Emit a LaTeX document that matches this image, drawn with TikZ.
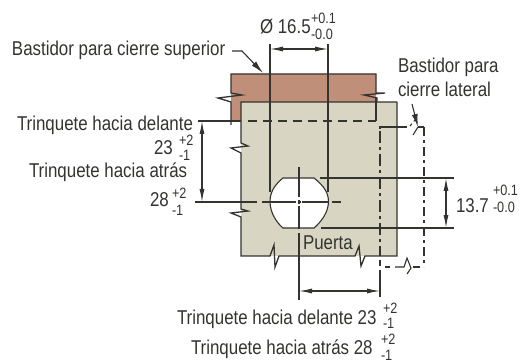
\documentclass[tikz,border=0pt]{standalone}
\usepackage{fontspec}
\setmainfont[FakeStretch=0.845]{Liberation Sans}
\usetikzlibrary{arrows.meta}
\definecolor{ink}{HTML}{333330}
\definecolor{frame}{HTML}{C08F7A}
\definecolor{door}{HTML}{D8D6C2}
\newcommand{\bigtxt}{\fontsize{20}{20}\selectfont}
\newcommand{\smalltxt}{\fontsize{15}{15}\selectfont}
\tikzset{
  lbl/.style={anchor=base west,inner sep=0pt,outer sep=0pt,text=ink,font=\bigtxt},
  tol/.style={anchor=base west,inner sep=0pt,outer sep=0pt,text=ink,font=\smalltxt},
  ln/.style={draw=ink,line width=1.1pt},
  edge/.style={draw=ink,line width=1.3pt},
  dsh/.style={draw=ink,line width=1.1pt,dash pattern=on 9pt off 6pt},
  dim/.style={draw=ink,line width=1.1pt,{Latex[length=13pt,width=5pt]}-{Latex[length=13pt,width=5pt]}},
  lead/.style={draw=ink,line width=1.1pt,-{Latex[length=13pt,width=6pt]}}
}
\begin{document}
\begin{tikzpicture}[x=1pt,y=-1pt]
\useasboundingbox (0,0) rectangle (521,363);
% top frame
\path[fill=frame] (231,74) -- (376,74) -- (376,102) -- (241,102) -- (241,121) -- (231,121) -- cycle;
\draw[edge] (231,125) -- (231,102) -- (218,98) -- (242,95) -- (231,93) -- (231,74) -- (376,74) -- (376,93) -- (385,93) -- (364,95) -- (377,98) -- (376,121);
% door
\path[fill=door] (241,102) -- (397,102) -- (397,256) -- (241,256) -- cycle;
\draw[edge] (376,98) -- (376,121);
\draw[edge] (397,102) -- (397,256) -- (365,256) -- (361,266) -- (359,246) -- (355,256)
  -- (279,256) -- (275,267) -- (274,245) -- (270,256) -- (241,256)
  -- (241,217) -- (231,213) -- (248,211) -- (241,209)
  -- (241,153) -- (231,148) -- (248,146) -- (241,143) -- (241,102) -- (397,102);
% hole
\path[fill=white,draw=ink,line width=1.1pt] (283,178) -- (314,178)
  .. controls (320,183) and (328.5,190) .. (328.5,201.5)
  .. controls (328.5,213) and (320,223) .. (314,228) -- (283,228)
  .. controls (277,223) and (270,213) .. (270,201.5)
  .. controls (270,190) and (277,183) .. (283,178) -- cycle;
% verticals of diameter
\coordinate (dl) at (270,44); \coordinate (dr) at (328,44);
\draw[ln] (dl) -- (270,192);
\draw[ln] (dr) -- (328,192);
\draw[dim] (270,49) -- (328,49);
% rack lines
\coordinate (fwd) at (198,121);
\draw[ln] (fwd) -- (241,121);
\draw[dsh] (248,121) -- (376,121);
\coordinate (bck) at (195,202);
\draw[ln] (bck) -- (257,202);
\draw[ln] (262,202) -- (296,202);
\draw[ln] (297.5,202) -- (300.5,202);
\draw[ln] (302,202) -- (328.5,202);
\draw[ln] (332,202) -- (341,202);
\draw[dim] (202,121) -- (202,202);
% center vertical
\draw[ln] (299,167) -- (299,197.5);
\draw[ln] (299,200) -- (299,203.5);
\draw[ln] (299,206) -- (299,229);
\draw[ln] (299,233) -- (299,300);
\draw[dim] (299,291) -- (380,291);
% side frame dashed
\draw[ln] (380,270) -- (380,297);
\draw[ln] (380,260) -- (380,266);
\draw[ln,dash pattern=on 12pt off 4pt on 3pt off 4pt] (380,131) -- (380,256);
\draw[ln] (380,129) -- (380,127) -- (407,127);
\draw[ln,dash pattern=on 3pt off 3pt] (410,126) -- (415,120);
\draw[ln] (418,127) -- (413,135);
\draw[ln] (418,127) -- (424,127);
\draw[ln,dash pattern=on 9pt off 4pt on 3pt off 4pt] (424,127) -- (424,267);
\draw[ln] (385,267) -- (390,267);
\draw[ln] (395,267) -- (404,267) -- (407,258) -- (411,268) -- (407,274);
\draw[ln] (413,267) -- (420,267);
% 13.7 dimension
\draw[ln] (320,178) -- (454,178);
\draw[ln] (321,228) -- (454,228);
\draw[dim] (446,178) -- (446,228);
% labels
\node[lbl] (topframe) at (12,56) {Bastidor para cierre superior};
\node[lbl] (diam) at (260,34) {Ø 16.5};
\node[tol] (diamp) at (311,24) {+0.1};
\node[tol] (diamm) at (311,40) {-0.0};
\node[lbl] (side1) at (398,73) {Bastidor para};
\node[lbl] (side2) at (398,97) {cierre lateral};
\node[lbl] (tfw) at (17,131) {Trinquete hacia delante};
\node[lbl] (n23) at (154,155) {23};
\node[tol] (n23p) at (179,146) {+2};
\node[tol] (n23m) at (179,161) {-1};
\node[lbl] (tbk) at (29,178) {Trinquete hacia atrás};
\node[lbl] (n28) at (150,207) {28};
\node[tol] (n28p) at (172,199) {+2};
\node[tol] (n28m) at (172,215) {-1};
\node[lbl] (n137) at (456,212) {13.7};
\node[tol] (n137p) at (493,196) {+0.1};
\node[tol] (n137m) at (493,212) {-0.0};
\node[lbl] (door) at (303,249) {Puerta};
\node[lbl] (bfw) at (177,324) {Trinquete hacia delante 23};
\node[tol] (bfwp) at (383,313) {+2};
\node[tol] (bfwm) at (383,328) {-1};
\node[lbl] (bbk) at (191,354) {Trinquete hacia atrás 28};
\node[tol] (bbkp) at (381,344) {+2};
\node[tol] (bbkm) at (381,360) {-1};
% leaders
\coordinate (l1a) at (232,51); \coordinate (l1b) at (242,51); \coordinate (l1c) at (263,73);
\draw[lead] (l1a) -- (l1b) -- (l1c);
\coordinate (l2a) at (412,104); \coordinate (l2b) at (418,127);
\draw[lead] (l2a) -- (l2b);
\end{tikzpicture}
\end{document}
